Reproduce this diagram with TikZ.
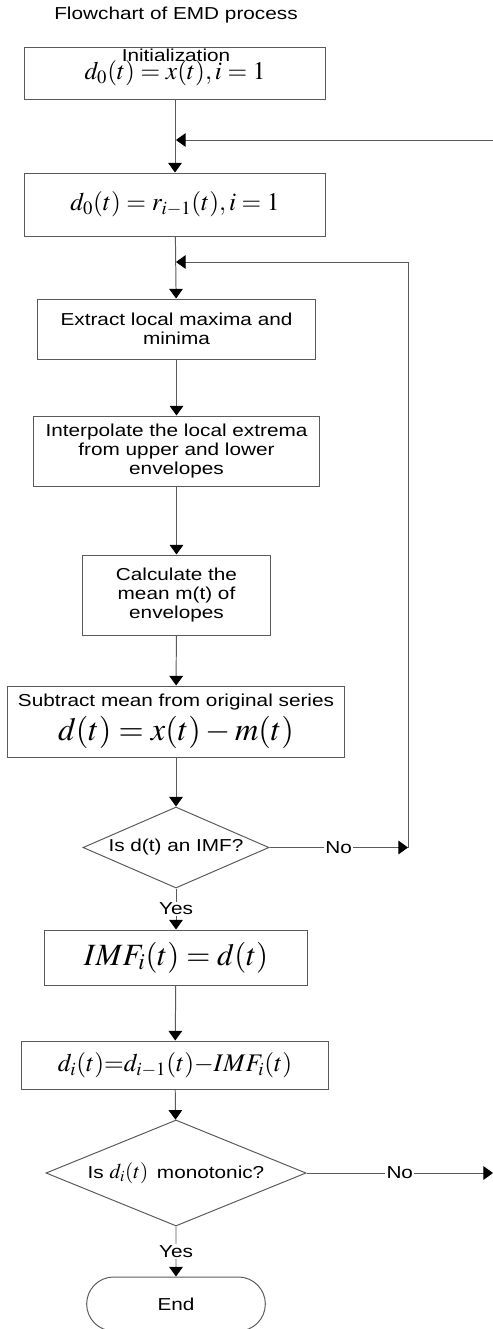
\documentclass[tikz,border=0pt]{standalone}
\usepackage{mathptmx}
\usepackage{fontspec}
\setmainfont{Liberation Sans}[FakeStretch=1.2]
\usepackage{tikz}
\usetikzlibrary{shapes.geometric, shapes.misc, arrows.meta, positioning}
\definecolor{linegray}{RGB}{90, 90, 90}
\newcommand{\eqsz}[2]{{\fontsize{#1}{#1}\selectfont$#2$}}

\begin{document}
\begin{tikzpicture}[
    x=0.025cm, y=-0.025cm,
    proc/.style={rectangle, draw=linegray, line width=0.7pt, inner sep=1pt,
                 align=center, font=\fontsize{12.3}{13.5}\selectfont},
    decision/.style={diamond, draw=linegray, line width=0.7pt, inner sep=0pt,
                     align=center, font=\fontsize{12.3}{13.5}\selectfont},
    term/.style={rounded rectangle, draw=linegray, line width=0.7pt,
                 font=\fontsize{12.3}{13.5}\selectfont},
    flow/.style={draw=linegray, line width=0.7pt,
                 -{Triangle[length=2.4mm, width=3.4mm, color=black]}},
    tag/.style={fill=white, inner sep=1pt, font=\fontsize{12.3}{13.5}\selectfont}
]
    \useasboundingbox (0,0) rectangle (493,1329);

    % Title
    \node[font=\fontsize{12.3}{13.5}\selectfont] (title) at (176,15) {Flowchart of EMD process};

    % Steps
    \node[proc, minimum width=7.5cm, minimum height=1.3cm] (init) at (175,73) {\raisebox{-11pt}{\eqsz{18}{d_0(t) = x(t), i = 1}}};
    \node[font=\fontsize{12.3}{13.5}\selectfont] (initlbl) at (176,55) {Initialization};
    \node[proc, minimum width=7.5cm, minimum height=1.575cm] (upd) at (175,204.5) {\eqsz{18}{d_0(t) = r_{i-1}(t), i = 1}};
    \node[proc, minimum width=6.925cm, minimum height=1.5cm] (ext) at (176.5,329) {Extract local maxima and\\minima};
    \node[proc, minimum width=7.125cm, minimum height=1.75cm] (interp) at (176.5,451) {Interpolate the local extrema\\from upper and lower\\envelopes};
    \node[proc, minimum width=4.675cm, minimum height=2cm] (mean) at (176.5,595) {Calculate the\\mean m(t) of\\envelopes};
    \node[proc, minimum width=8.4cm, minimum height=1.775cm] (sub) at (176,721.5) {Subtract mean from original series\\[3pt]\eqsz{23}{d(t) = x(t) - m(t)}};
    \node[decision, shape aspect=2.3, minimum width=4.65cm, minimum height=2.025cm] (isimf) at (176,847.5) {Is d(t) an IMF?};
    \node[proc, minimum width=6.55cm, minimum height=1.375cm] (imf) at (176,957.5) {\eqsz{22}{IMF_i(t) = d(t)}};
    \node[proc, minimum width=7.65cm, minimum height=1.2cm] (resid) at (175,1065) {\eqsz{18}{d_i(t){=}d_{i-1}(t){-}IMF_i(t)}};
    \node[decision, shape aspect=2.45, minimum width=6.5cm, minimum height=2.65cm] (ismono) at (176,1173) {Is \eqsz{15}{d_i(t)}\enspace monotonic?};
    \node[term, minimum width=4.7cm, minimum height=1.35cm] (end) at (176,1304) {End};

    % Loop points
    \coordinate (retin) at (493,140);
    \coordinate (retjoin) at (176,140);
    \coordinate (loopjoin) at (176,262);
    \coordinate (loopup) at (408,262);
    \coordinate (loopno) at (408,847.5);
    \coordinate (monono) at (493,1173);

    % Arrows
    \draw[flow] (init) -- (upd);
    \draw[flow] (retin) -- (retjoin);
    \draw[flow] (upd) -- (ext);
    \draw[flow] (loopno) -- (loopup) -- (loopjoin);
    \draw[flow] (ext) -- (interp);
    \draw[flow] (interp) -- (mean);
    \draw[flow] (mean) -- (sub);
    \draw[flow] (sub) -- (isimf);
    \draw[flow] (isimf.east) -- node[tag] {No} (loopno);
    \draw[flow] (isimf.south) -- node[tag] {Yes} (imf);
    \draw[flow] (imf) -- (resid);
    \draw[flow] (resid) -- (ismono);
    \draw[flow] (ismono.east) -- node[tag] {No} (monono);
    \draw[flow] (ismono.south) -- node[tag] {Yes} (end);
\end{tikzpicture}
\end{document}
